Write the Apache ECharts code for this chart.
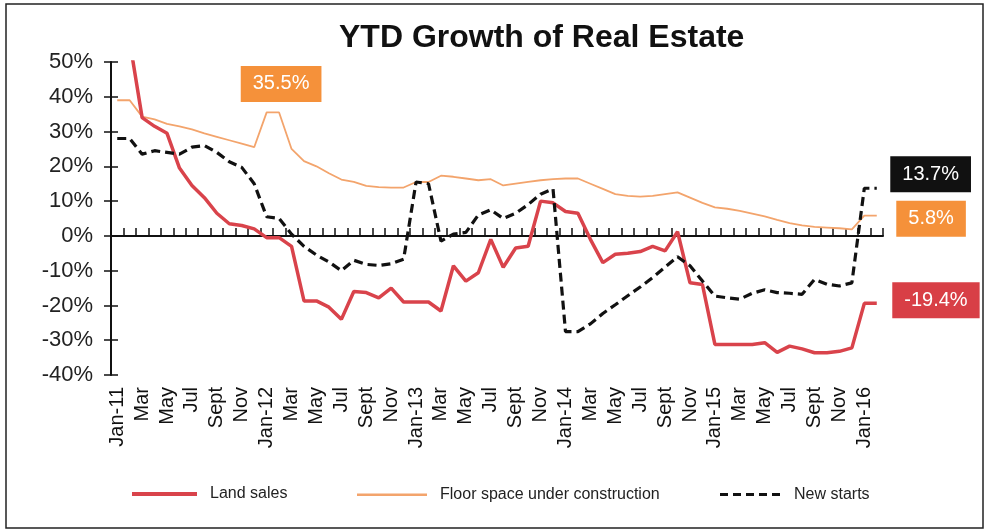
<!DOCTYPE html>
<html>
<head>
<meta charset="utf-8">
<script src="https://cdn.jsdelivr.net/npm/echarts@6/dist/echarts.min.js"></script>
<style>
  html, body { margin: 0; padding: 0; background: #fff; }
  #chart { width: 988px; height: 532px; }
</style>
</head>
<body>
<div id="chart"></div>
<script>
// months Jan-11 .. Feb-16, every other one is labelled
var months = [
  'Jan-11','Feb','Mar','Apr','May','Jun','Jul','Aug','Sept','Oct','Nov','Dec',
  'Jan-12','Feb','Mar','Apr','May','Jun','Jul','Aug','Sept','Oct','Nov','Dec',
  'Jan-13','Feb','Mar','Apr','May','Jun','Jul','Aug','Sept','Oct','Nov','Dec',
  'Jan-14','Feb','Mar','Apr','May','Jun','Jul','Aug','Sept','Oct','Nov','Dec',
  'Jan-15','Feb','Mar','Apr','May','Jun','Jul','Aug','Sept','Oct','Nov','Dec',
  'Jan-16','Feb'
];
var landSales = [
  56, 56, 34, 31.5, 29.5, 19.5, 14.5, 11, 6.5, 3.5, 3, 2,
  -0.5, -0.5, -3, -18.7, -18.7, -20.5, -24, -16, -16.3, -17.8, -15, -19,
  -19, -19, -21.6, -8.6, -13, -10.6, -1, -9, -3.5, -3, 10, 9.5,
  7, 6.5, -1, -7.7, -5.3, -5, -4.5, -3, -4.3, 1.2, -13.5, -14,
  -31.2, -31.2, -31.2, -31.2, -30.7, -33.5, -31.7, -32.5, -33.6, -33.6, -33.2, -32.2,
  -19.4, -19.4
];
var floorSpace = [
  39, 39, 34.3, 33.5, 32.2, 31.5, 30.6, 29.5, 28.5, 27.5, 26.5, 25.5,
  35.5, 35.5, 25, 21.5, 20, 18, 16.2, 15.5, 14.4, 14, 13.9, 13.9,
  15.5, 15.5, 17.3, 17, 16.5, 16, 16.3, 14.5, 15, 15.5, 16, 16.3,
  16.5, 16.5, 15, 13.5, 12, 11.5, 11.3, 11.5, 12, 12.5, 11, 9.5,
  8.2, 7.8, 7.2, 6.4, 5.6, 4.6, 3.7, 3, 2.6, 2.4, 2.2, 1.9,
  5.8, 5.8
];
var newStarts = [
  28, 28, 23.5, 24.5, 24, 23.5, 25.5, 26, 24, 21.3, 19.7, 15,
  5.5, 5, 0.5, -3, -5.5, -7.5, -10, -7, -8.2, -8.5, -8, -6.7,
  15.5, 15, -1.5, 0.5, 1, 6, 7.5, 5, 6.5, 9, 12, 13.5,
  -27.5, -27.5, -25.3, -22.3, -19.8, -17.2, -14.7, -12, -9, -6, -8.6, -13,
  -17.3, -17.8, -18.2, -16.5, -15.5, -16.3, -16.5, -16.8, -12.5, -13.9, -14.4, -13.5,
  13.7, 13.7
];
var yTicks = { min: -40, max: 50, step: 10 };

var chart = echarts.init(document.getElementById('chart'));
var font = 'Liberation Sans, Arial, sans-serif';

function boxLabel(text, bg, dist, off) {
  return {
    show: true,
    position: 'right',
    distance: dist,
    offset: off,
    formatter: text,
    color: '#fff',
    fontFamily: font,
    fontSize: 20,
    backgroundColor: bg,
    padding: [8, 12, 8, 12]
  };
}
function endPoint(idx, val, label) {
  return {
    coord: [idx, val],
    symbol: 'circle',
    symbolSize: 1,
    itemStyle: { color: 'rgba(0,0,0,0)' },
    label: label
  };
}
var last = months.length - 1;

// legend icons drawn as flat bars (dashed one = 5 short bars)
var dashIcon = 'path://M0,0H8V3H0Z M13,0H21V3H13Z M26,0H34V3H26Z M39,0H47V3H39Z M52,0H60V3H52Z';
function legendItem(name, left, icon, h, w) {
  return {
    data: [{ name: name, icon: icon }],
    left: left,
    top: 478 + (10 - h) / 2,
    itemWidth: w,
    itemHeight: h,
    textStyle: { fontFamily: font, fontSize: 16, color: '#222', padding: [0, 0, 0, 8] }
  };
}

var option = {
  animation: false,
  backgroundColor: '#fff',
  title: {
    text: 'YTD Growth of Real Estate',
    left: 334,
    top: 17,
    textStyle: { fontFamily: font, fontSize: 32, fontWeight: 'bold', color: '#111' }
  },
  graphic: [{
    type: 'rect',
    shape: { x: 6, y: 4, width: 977, height: 524 },
    style: { fill: 'none', stroke: '#222', lineWidth: 1.5 },
    silent: true
  }],
  legend: [
    legendItem('Land sales', 127, 'rect', 4, 65),
    legendItem('Floor space under construction', 352, 'rect', 2.5, 70),
    legendItem('New starts', 715, dashIcon, 3, 62)
  ],
  grid: { left: 111, right: 105, top: 62, bottom: 157, containLabel: false },
  xAxis: [
    {
      type: 'category',
      data: months,
      boundaryGap: true,
      axisLine: { onZero: true, lineStyle: { color: '#111', width: 2 } },
      axisTick: { show: true, inside: true, length: 8, interval: 0, lineStyle: { color: '#111', width: 1.5 } },
      axisLabel: { show: false },
      splitLine: { show: false }
    },
    {
      type: 'category',
      data: months,
      boundaryGap: true,
      position: 'bottom',
      axisLine: { show: false, onZero: false },
      axisTick: { show: false },
      axisLabel: {
        interval: 1,
        rotate: 90,
        margin: 12,
        fontFamily: font,
        fontSize: 20,
        color: '#111'
      },
      splitLine: { show: false }
    }
  ],
  yAxis: [
    {
      type: 'value',
      min: yTicks.min,
      max: yTicks.max,
      interval: yTicks.step,
      axisLine: { show: true, lineStyle: { color: '#111', width: 2 } },
      axisTick: { show: true, length: 7, lineStyle: { color: '#111', width: 1.5 } },
      axisLabel: {
        formatter: '{value}%',
        margin: 18,
        fontFamily: font,
        fontSize: 22,
        color: '#222'
      },
      splitLine: { show: false }
    },
    {
      type: 'value',
      min: yTicks.min,
      max: yTicks.max,
      interval: yTicks.step,
      position: 'left',
      axisLine: { show: false },
      axisTick: { show: true, inside: true, length: 7, lineStyle: { color: '#111', width: 1.5 } },
      axisLabel: { show: false },
      splitLine: { show: false }
    }
  ],
  series: [
    {
      name: 'Floor space under construction',
      type: 'line',
      data: floorSpace,
      symbol: 'none',
      lineStyle: { color: '#F3A46C', width: 1.8 },
      itemStyle: { color: '#F3A46C' },
      markPoint: {
        data: [
          endPoint(13, 35.5, Object.assign(boxLabel('35.5%', '#F5913A', 0, [0, 0]), { position: 'top', distance: 10, offset: [2, 0] })),
          endPoint(last, floorSpace[last], boxLabel('5.8%', '#F5913A', 19, [0, 3]))
        ]
      }
    },
    {
      name: 'Land sales',
      type: 'line',
      data: landSales,
      symbol: 'none',
      lineStyle: { color: '#D9434B', width: 3.5 },
      itemStyle: { color: '#D9434B' },
      markPoint: {
        data: [endPoint(last, landSales[last], boxLabel('-19.4%', '#D83F46', 15, [0, -3]))]
      }
    },
    {
      name: 'New starts',
      type: 'line',
      data: newStarts,
      symbol: 'none',
      lineStyle: { color: '#111', width: 3.2, type: [9, 5] },
      itemStyle: { color: '#111' },
      markPoint: {
        data: [endPoint(last, newStarts[last], boxLabel('13.7%', '#111', 13, [0, -14]))]
      }
    }
  ]
};
chart.setOption(option);
window.addEventListener('resize', function () { chart.resize(); });
</script>
</body>
</html>
